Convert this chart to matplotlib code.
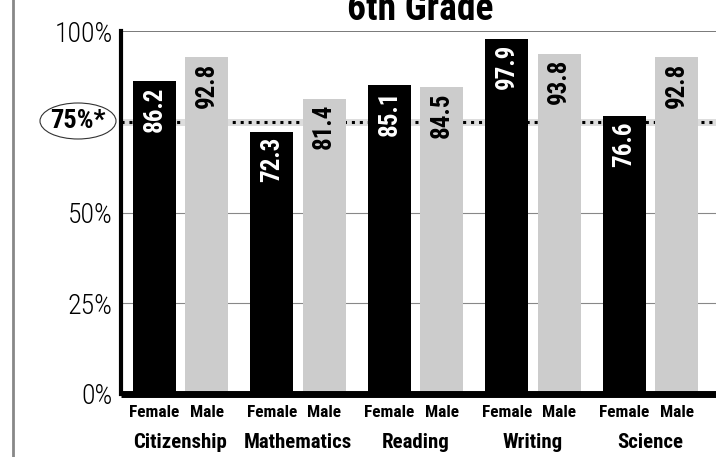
import matplotlib.pyplot as plt
from matplotlib.patches import Ellipse
from matplotlib.lines import Line2D

subjects = ['Citizenship', 'Mathematics', 'Reading', 'Writing', 'Science']
female = [86.2, 72.3, 85.1, 97.9, 76.6]
male = [92.8, 81.4, 84.5, 93.8, 92.8]
yticks = [0, 25, 50, 75, 100]
ylabels = ['0%', '25%', '50%', '', '100%']

plt.rcParams['font.family'] = ['Roboto Condensed', 'DejaVu Sans']

W, H = 716, 457
fig = plt.figure(figsize=(W / 100, H / 100), dpi=100)
ax = fig.add_axes([121 / W, (H - 394) / H, (W - 121) / W, (394 - 31) / H])

bw = 0.366
off = 0.443
xf = [i for i in range(len(subjects))]
xm = [i + off for i in xf]

# reference lines
for v in [25, 50, 100]:
    ax.axhline(v, color='#555555' if v == 100 else '#888888', lw=1.1 if v == 100 else 0.8, zorder=0)
ax.axhline(75, color='#dddddd', lw=5, zorder=0.5)
ax.axhline(75, color='black', lw=2.2, ls=(0, (1, 1.6)), zorder=0.6)

ax.bar(xf, female, width=bw, color='black', zorder=2)
ax.bar(xm, male, width=bw, color='#cccccc', zorder=2)

for x, v in zip(xf, female):
    ax.annotate(f'{v:.1f}', (x, v), xytext=(0, -4), textcoords='offset points',
                rotation=90, ha='center', va='top', color='white',
                fontsize=18, fontweight='bold', zorder=3)
for x, v in zip(xm, male):
    ax.annotate(f'{v:.1f}', (x, v), xytext=(0, -4), textcoords='offset points',
                rotation=90, ha='center', va='top', color='black',
                fontsize=18, fontweight='bold', zorder=3)

ax.set_xlim(-0.285, 4.779)
ax.set_ylim(0, 100)
ax.set_yticks(yticks)
ax.set_yticklabels(ylabels, fontsize=20, fontweight='light')
ax.tick_params(axis='y', length=0, pad=6)
ax.set_xticks([])

for s in ['top', 'right']:
    ax.spines[s].set_visible(False)
ax.spines['left'].set_linewidth(3)
ax.spines['bottom'].set_linewidth(5)
ax.spines['bottom'].set_capstyle('butt')

for i, name in enumerate(subjects):
    ax.text(xf[i], -2.9, 'Female', ha='center', va='top', fontsize=12.5,
            fontweight='bold', clip_on=False)
    ax.text(xm[i], -2.9, 'Male', ha='center', va='top', fontsize=12.5,
            fontweight='bold', clip_on=False)
    ax.text((xf[i] + xm[i]) / 2, -10.8, name, ha='center', va='top', fontsize=15,
            fontweight='bold', clip_on=False)

# 75% label in ellipse
fig.text(78 / W, 1 - 121 / H, '75%*', ha='center', va='center', fontsize=19, fontweight='bold')
fig.patches.append(Ellipse((78 / W, 1 - 121 / H), 76 / W, 36 / H, transform=fig.transFigure,
                           fill=False, ec='#333333', lw=0.8))

# left border line
fig.add_artist(Line2D([13 / W, 13 / W], [0, 1], color='#888888', lw=2))

fig.text(420 / W, 1 - 20 / H, '6th Grade', ha='center', va='baseline', fontsize=27, fontweight='bold')

fig.savefig('out.png', dpi=100)
